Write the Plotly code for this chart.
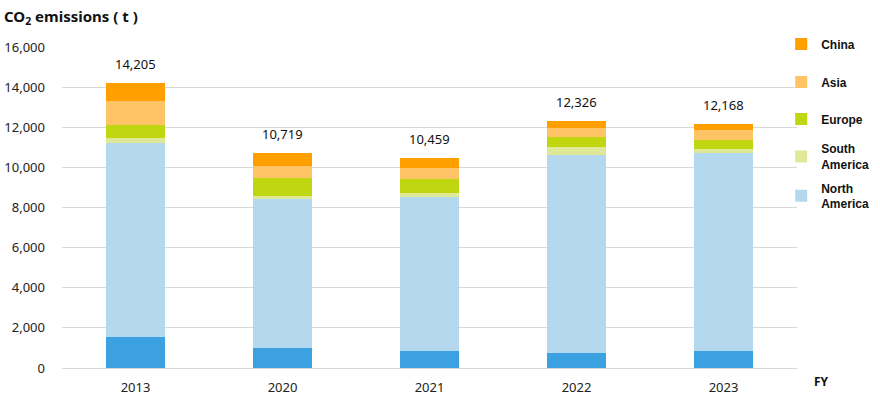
import plotly.graph_objects as go

years = ["2013", "2020", "2021", "2022", "2023"]
japan = [1550, 1000, 850, 750, 850]
north_america = [9670, 7425, 7680, 9870, 9870]
south_america = [250, 150, 200, 400, 200]
europe = [650, 900, 700, 500, 450]
asia = [1190, 600, 550, 450, 500]
china = [895, 644, 479, 356, 298]

# name, values, colour, legend id (None = not in legend), legend centre (paper y)
series = [
    ("Japan", japan, "#3BA1E0", None, None),
    ("North<br>America", north_america, "#B4D9EF", "legend5", 0.535),
    ("South<br>America", south_america, "#DFE897", "legend4", 0.658),
    ("Europe", europe, "#BFD611", "legend3", 0.776),
    ("Asia", asia, "#FFC466", "legend2", 0.891),
    ("China", china, "#FF9F00", "legend", 1.009),
]

FONT = "Noto Sans"
LEG_FONT = dict(family="Liberation Sans", size=12, color="#111", weight="bold")
fig = go.Figure()
legends = {}
for name, vals, color, leg, ly in series:
    kw = dict(showlegend=False) if leg is None else dict(showlegend=True, legend=leg)
    fig.add_trace(go.Bar(
        x=years, y=vals, name=name, marker=dict(color=color, line=dict(width=0)),
        hoverinfo="skip", **kw,
    ))
    if leg is not None:
        legends[leg] = dict(x=0.9785, xanchor="left", y=ly, yanchor="middle",
                            itemwidth=30, font=LEG_FONT, bgcolor="rgba(0,0,0,0)")

totals = [sum(v) for v in zip(japan, north_america, south_america, europe, asia, china)]
for i, t in enumerate(totals):
    fig.add_annotation(x=i, y=t, text=f"{t:,}", showarrow=False, yshift=19,
                       font=dict(family=FONT, size=13, color="#111"))

fig.add_annotation(xref="paper", yref="paper", x=-0.082, y=1.0, yshift=30,
                   xanchor="left", yanchor="middle", showarrow=False,
                   text="<b>CO<sub>2</sub> emissions ( t )</b>",
                   font=dict(family=FONT, size=15, color="#111"))
fig.add_annotation(xref="paper", yref="paper", x=1.02, y=0, yshift=-13,
                   xanchor="left", yanchor="middle", showarrow=False,
                   text="<b>FY</b>", font=dict(family=FONT, size=12, color="#111"))

fig.update_layout(
    width=880, height=400,
    margin=dict(l=62, r=83, t=47, b=32, autoexpand=False),
    barmode="stack", bargap=0.6,
    plot_bgcolor="white", paper_bgcolor="white",
    font=dict(family=FONT, size=12, color="#222"),
    xaxis=dict(type="category", showline=False, ticks="", ticklabelstandoff=10,
               tickfont=dict(size=13, color="#222")),
    yaxis=dict(range=[0, 16000], dtick=2000, tickformat=",", gridcolor="#D9D9D9",
               gridwidth=1, zeroline=True, zerolinecolor="#D9D9D9", zerolinewidth=1,
               ticks="", ticklabelstandoff=16, tickfont=dict(size=13, color="#222")),
    **legends,
)
fig.write_html("out.html", config={"displayModeBar": False},
               post_script="document.body.style.margin='0px';")
